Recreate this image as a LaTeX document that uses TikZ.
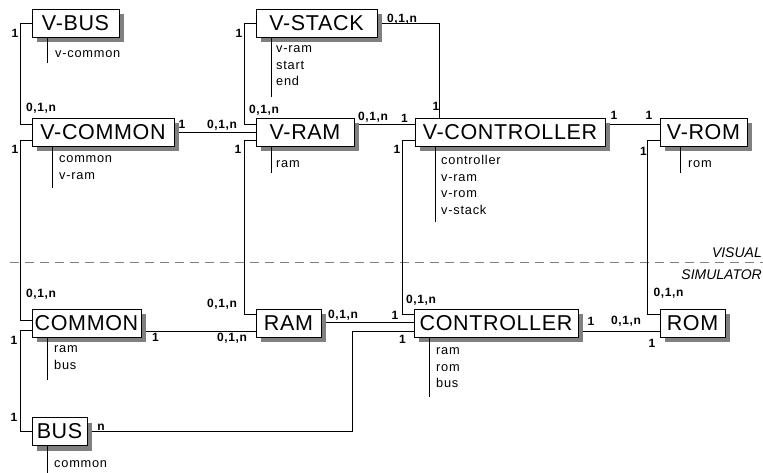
\documentclass[tikz,border=0pt]{standalone}
\usepackage{fontspec}
\setmainfont{Liberation Sans}
\newfontfamily\entfont[LetterSpace=3]{Liberation Sans}
\newfontfamily\attfont[LetterSpace=6]{Liberation Sans}
\newfontfamily\cardfont[LetterSpace=5]{Liberation Sans}
\usetikzlibrary{shadows,backgrounds}
\begin{document}
\begin{tikzpicture}[x=1pt,y=1pt,
    ent/.style={draw, fill=white, line width=0.9pt, minimum height=28pt, inner sep=0pt,
      font=\entfont\fontsize{21.5}{21.5}\selectfont,
      drop shadow={shadow xshift=5pt, shadow yshift=-5pt, fill=black!50, opacity=1}},
    att/.style={anchor=north west, inner sep=0pt, align=left,
      font=\attfont\fontsize{12.8}{16.5}\selectfont, execute at begin node=\strut},
    card/.style={inner sep=0pt, font=\cardfont\bfseries\fontsize{12}{12}\selectfont},
    lnk/.style={line width=0.9pt}]
  \useasboundingbox (0,0) rectangle (763,-472);
  % visual layer
  \node[ent, minimum width=87pt] (vbus) at (75.5,-23) {V-BUS};
  \node[ent, minimum width=121pt] (vstack) at (316.5,-23) {V-STACK};
  \node[ent, minimum width=142pt] (vcommon) at (103,-132) {V-COMMON};
  \node[ent, minimum width=98pt] (vram) at (305,-132) {V-RAM};
  \node[ent, minimum width=190pt] (vcontroller) at (510,-132) {V-CONTROLLER};
  \node[ent, minimum width=87pt] (vrom) at (703.5,-132) {V-ROM};
  % simulator layer
  \node[ent, minimum width=109pt] (common) at (86.5,-323) {COMMON};
  \node[ent, minimum width=65pt] (ram) at (288.5,-323) {RAM};
  \node[ent, minimum width=164pt] (controller) at (496,-323) {CONTROLLER};
  \node[ent, minimum width=65pt] (rom) at (692.5,-323) {ROM};
  \node[ent, minimum width=55pt] (bus) at (59.5,-431.5) {BUS};
  % attributes
  \node[att] (vbusatt) at (55,-45.5) {v-common};
  \node[att] (vcommonatt) at (59,-155.5) {common\\v-ram};
  \node[att] (vstackatt) at (276,-45.5) {v-ram\\start\\end};
  \node[att] (vramatt) at (276,-155.5) {ram};
  \node[att] (vcontrolleratt) at (441,-155.5) {controller\\v-ram\\v-rom\\v-stack};
  \node[att] (vromatt) at (688,-155.5) {rom};
  \node[att] (commonatt) at (54,-345.5) {ram\\bus};
  \node[att] (controlleratt) at (436,-347.5) {ram\\rom\\bus};
  \node[att] (busatt) at (54,-455.5) {common};
  \draw[lnk] ([xshift=16pt]vbus.south west) -- ++(0,-26);
  \draw[lnk] ([xshift=21pt]vcommon.south west) -- ++(0,-42);
  \draw[lnk] ([xshift=16pt]vstack.south west) -- ++(0,-60);
  \draw[lnk] ([xshift=16pt]vram.south west) -- ++(0,-27);
  \draw[lnk] ([xshift=21pt]vcontroller.south west) -- ++(0,-76);
  \draw[lnk] ([xshift=21pt]vrom.south west) -- ++(0,-27);
  \draw[lnk] ([xshift=16pt]common.south west) -- ++(0,-43);
  \draw[lnk] ([xshift=16pt]controller.south west) -- ++(0,-60);
  \draw[lnk] ([xshift=16pt]bus.south west) -- ++(0,-27);
  % links
  \begin{scope}[on background layer]
    \draw[dashed, gray, line width=0.9pt, dash pattern=on 9pt off 6pt] (10,-262) -- (763,-262);
    \draw[lnk] (vbus.west) -- ++(-11,0) |- ([yshift=8pt]vcommon.west);
    \draw[lnk] ([yshift=-8pt]vcommon.west) -- ++(-11,0) |- ([yshift=3pt]common.west);
    \draw[lnk] ([yshift=-7pt]common.west) -- ++(-11,0) |- (bus.west);
    \draw[lnk] (vcommon.east) -- (vram.west);
    \draw[lnk] (vstack.west) -- ++(-11,0) |- ([yshift=8pt]vram.west);
    \draw[lnk] ([yshift=-8pt]vram.west) -- ++(-11,0) |- ([yshift=9pt]ram.west);
    \draw[lnk] (vstack.east) -| ([xshift=25pt]vcontroller.north west);
    \draw[lnk] ([yshift=8pt]vram.east) -- ([yshift=8pt]vcontroller.west);
    \draw[lnk] ([yshift=-8pt]vcontroller.west) -- ++(-12,0) |- ([yshift=9pt]controller.west);
    \draw[lnk] ([yshift=8pt]vcontroller.east) -- ([yshift=8pt]vrom.west);
    \draw[lnk] ([yshift=-8pt]vrom.west) -- ++(-12,0) |- ([yshift=9pt]rom.west);
    \draw[lnk] ([yshift=-8pt]common.east) -- ([yshift=-8pt]ram.west);
    \draw[lnk] ([yshift=1pt]ram.east) -- ([yshift=1pt]controller.west);
    \draw[lnk] (bus.east) -| ([xshift=-61pt,yshift=-8pt]controller.west) -- ([yshift=-8pt]controller.west);
    \draw[lnk] ([yshift=-8pt]controller.east) -- ([yshift=-8pt]rom.west);
  \end{scope}
  \node[anchor=east, inner sep=0pt, font=\itshape\fontsize{14}{14}\selectfont] (visual) at (762,-253) {VISUAL};
  \node[anchor=east, inner sep=0pt, font=\itshape\fontsize{14}{14}\selectfont] (simulator) at (762,-275) {SIMULATOR};
  % cardinalities
  \node[card] (c1) at (15,-33) {1}; \node[card] (c2) at (41,-108) {0,1,n};
  \node[card] (c3) at (15,-149) {1}; \node[card] (c4) at (182,-124) {1};
  \node[card] (c5) at (222,-125) {0,1,n}; \node[card] (c6) at (239,-33) {1};
  \node[card] (c7) at (264,-110) {0,1,n}; \node[card] (c8) at (238,-149) {1};
  \node[card] (c9) at (373,-117) {0,1,n}; \node[card] (c10) at (404.5,-118) {1};
  \node[card] (c11) at (402,-19) {0,1,n}; \node[card] (c12) at (436,-106) {1};
  \node[card] (c13) at (397,-149) {1}; \node[card] (c14) at (614,-115) {1};
  \node[card] (c15) at (649,-115) {1}; \node[card] (c16) at (643.5,-151) {1};
  \node[card] (c17) at (41,-294) {0,1,n}; \node[card] (c18) at (14,-340) {1};
  \node[card] (c19) at (14,-417) {1}; \node[card] (c20) at (155.5,-337.5) {1};
  \node[card] (c21) at (232,-338) {0,1,n}; \node[card] (c22) at (222,-304) {0,1,n};
  \node[card] (c23) at (101,-427) {n}; \node[card] (c24) at (343,-315) {0,1,n};
  \node[card] (c25) at (395,-315) {1}; \node[card] (c26) at (402.5,-339) {1};
  \node[card] (c27) at (421,-300) {0,1,n}; \node[card] (c28) at (591,-321) {1};
  \node[card] (c29) at (626,-321) {0,1,n}; \node[card] (c30) at (652,-343) {1};
  \node[card] (c31) at (668.5,-293) {0,1,n};
\end{tikzpicture}
\end{document}
